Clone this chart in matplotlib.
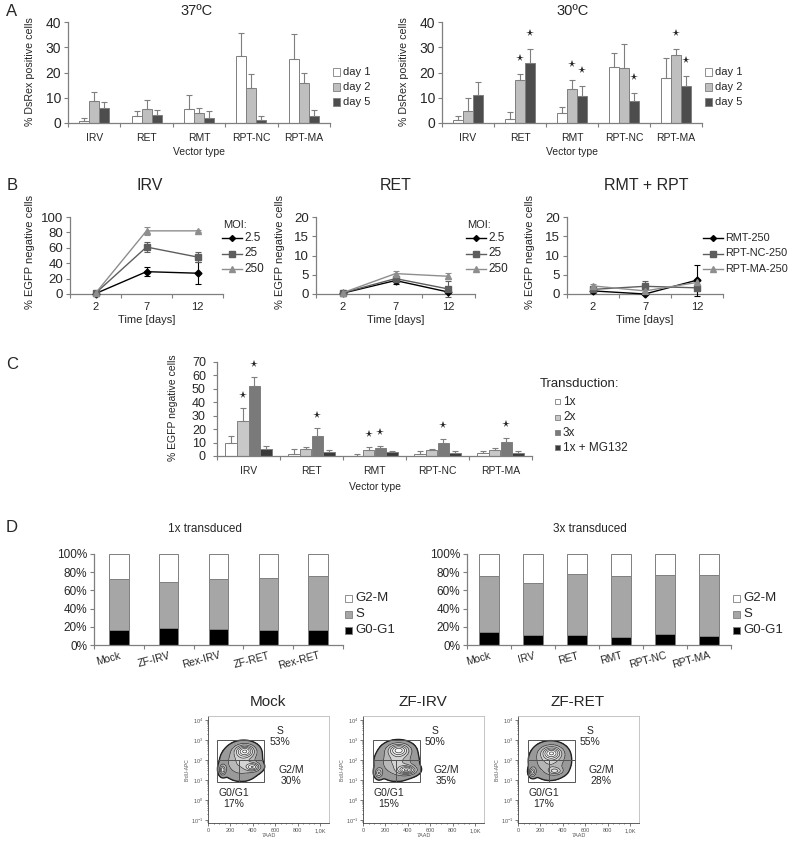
import numpy as np
import matplotlib
matplotlib.use('Agg')
import matplotlib.pyplot as plt
from matplotlib.patches import Rectangle
from matplotlib.lines import Line2D
from matplotlib.colors import LinearSegmentedColormap
from matplotlib.ticker import PercentFormatter

plt.rcParams['font.family'] = ['Liberation Sans', 'DejaVu Sans']

W, H = 792, 848
TXT = '#262626'
AX = '#7f7f7f'

# ---------------- data ----------------
vectors = ['IRV', 'RET', 'RMT', 'RPT-NC', 'RPT-MA']
day_labels = ['day 1', 'day 2', 'day 5']

# A: % DsRex positive cells at 37 C (mean, upper SD)
a37_day1 = [0.8, 2.9, 5.7, 26.7, 25.4]
a37_day2 = [8.8, 5.7, 3.8, 13.8, 15.8]
a37_day5 = [5.9, 3.2, 2.1, 1.1, 2.8]
a37_err1 = [1.0, 1.7, 5.5, 9.0, 9.7]
a37_err2 = [3.3, 3.5, 2.0, 5.7, 3.9]
a37_err5 = [2.3, 1.8, 2.5, 1.6, 2.4]

# A: 30 C
a30_day1 = [1.0, 1.5, 3.8, 22.3, 18.0]
a30_day2 = [4.6, 16.9, 13.4, 21.6, 27.1]
a30_day5 = [11.2, 23.8, 10.6, 8.7, 14.6]
a30_err1 = [1.8, 2.9, 2.5, 5.5, 7.9]
a30_err2 = [5.2, 2.7, 3.8, 9.5, 2.3]
a30_err5 = [5.1, 5.5, 3.9, 3.3, 4.2]
a30_stars = [(1, 1), (1, 2), (2, 1), (2, 2), (3, 2), (4, 1), (4, 2)]

# B: % EGFP negative cells over time
time_labels = ['2', '7', '12']
moi_labels = ['2.5', '25', '250']
irv_moi = [[0.5, 29, 27], [1, 61, 48], [1, 82, 82]]
irv_err = [[1, 6, 14], [1, 6, 6], [1, 5, 1]]
ret_moi = [[0.2, 3.5, 0.5], [0.3, 4.0, 1.3], [0.3, 5.3, 4.6]]
ret_err = [[0.3, 1.0, 0.3], [0.3, 0.8, 2.0], [0.3, 0.8, 0.8]]
rpt_labels = ['RMT-250', 'RPT-NC-250', 'RPT-MA-250']
rpt_vals = [[0.8, 0.0, 3.6], [1.2, 2.0, 1.6], [2.1, 0.8, 3.0]]
rpt_err = [[0.5, 0.3, 4.0], [0.5, 1.5, 0.8], [0.5, 0.5, 1.0]]

# C: repeated transduction
trans_labels = ['1x', '2x', '3x', '1x + MG132']
c_1x = [10.0, 1.8, 0.2, 1.6, 1.9]
c_2x = [26.0, 4.9, 4.2, 4.2, 4.8]
c_3x = [52.0, 15.2, 5.8, 9.4, 10.3]
c_mg = [5.5, 2.8, 2.8, 2.4, 1.9]
c_err_1x = [5.0, 3.3, 1.6, 1.8, 1.8]
c_err_2x = [9.7, 1.5, 2.2, 0.9, 0.8]
c_err_3x = [6.5, 5.3, 1.8, 3.6, 3.4]
c_err_mg = [1.8, 2.0, 1.1, 1.6, 2.1]
c_stars = [(0, 1), (0, 2), (1, 2), (2, 1), (2, 2), (3, 2), (4, 2)]

# D: cell cycle distribution (%)
phase_labels = ['G2-M', 'S', 'G0-G1']
d1_names = ['Mock', 'ZF-IRV', 'Rex-IRV', 'ZF-RET', 'Rex-RET']
d1_g0g1 = [16, 19, 18, 16, 17]
d1_s = [57, 50, 54, 58, 59]
d1_g2m = [27, 31, 28, 26, 24]
d3_names = ['Mock', 'IRV', 'RET', 'RMT', 'RPT-NC', 'RPT-MA']
d3_g0g1 = [14.5, 10.5, 10.5, 9, 12.5, 10]
d3_s = [61, 58, 67, 66.5, 64, 66.5]
d3_g2m = [24.5, 31.5, 22.5, 24.5, 23.5, 23.5]

# D: flow plots, populations as (7AAD centre, log10 BrdU centre, x spread, log spread, weight)
flow_names = ['Mock', 'ZF-IRV', 'ZF-RET']
flow_s_pct = ['53%', '50%', '55%']
flow_g2m_pct = ['30%', '35%', '28%']
flow_g1_pct = ['17%', '15%', '17%']
flow_pops = [
    [(295, 1.9, 95, 0.48, 0.4), (330, 2.45, 55, 0.2, 0.9), (130, 1.5, 18, 0.16, 0.6), (400, 1.65, 40, 0.13, 0.7)],
    [(300, 1.9, 100, 0.48, 0.4), (320, 2.5, 60, 0.2, 0.8), (140, 1.35, 20, 0.15, 0.5), (390, 1.5, 50, 0.14, 0.9)],
    [(285, 1.95, 95, 0.48, 0.4), (300, 2.35, 55, 0.2, 0.95), (130, 1.4, 18, 0.14, 0.6), (330, 1.45, 40, 0.11, 0.5)],
]
gate_left = [80, 89, 89]
gate_mid = [275, 296, 281]
gate_right = [500, 508, 510]

# ---------------- helpers ----------------
fig = plt.figure(figsize=(W / 100, H / 100), dpi=100)


def px_axes(x0, y0, x1, y1):
    return fig.add_axes([x0 / W, 1 - y1 / H, (x1 - x0) / W, (y1 - y0) / H])


def ftext(x, y, s, fs, **kw):
    kw.setdefault('ha', 'center')
    kw.setdefault('va', 'center')
    kw.setdefault('color', TXT)
    return fig.text(x / W, 1 - y / H, s, fontsize=fs, **kw)


def style(ax, yfs, pad=2):
    for s in ['top', 'right']:
        ax.spines[s].set_visible(False)
    for s in ['left', 'bottom']:
        ax.spines[s].set_color(AX)
        ax.spines[s].set_linewidth(0.9)
    ax.tick_params(axis='y', colors=AX, labelcolor=TXT, labelsize=yfs, length=3, width=0.8, pad=pad)


def categories(ax, labels, fs, pad):
    n = len(labels)
    ax.set_xlim(-0.5, n - 0.5)
    ax.set_xticks(range(n))
    ax.set_xticklabels(labels)
    ax.set_xticks(np.arange(-0.5, n), minor=True)
    ax.tick_params(axis='x', which='major', length=0, labelsize=fs, labelcolor=TXT, pad=pad)
    ax.tick_params(axis='x', which='minor', length=3, width=0.8, color=AX)


def grouped(ax, means, errs, colors, width, stars, star_off):
    k = len(means)
    x = np.arange(len(means[0]))
    tops = []
    for i in range(k):
        pos = x + (i - (k - 1) / 2) * width
        ax.bar(pos, means[i], width, color=colors[i], edgecolor=AX, linewidth=0.7, zorder=2)
        ax.errorbar(pos, means[i], yerr=[np.zeros(len(x)), errs[i]], fmt='none', ecolor=AX,
                    elinewidth=0.8, capsize=2, capthick=0.8, zorder=3)
        tops.append((pos, np.array(means[i]) + np.array(errs[i])))
    for g, i in stars:
        pos, top = tops[i]
        ax.plot(pos[g], top[g] + star_off, marker='*', ms=5.5, color=TXT, mew=0, clip_on=False, zorder=4)


def square_legend(x, y, labels, colors, fs, dy, size=7):
    for i, (lab, col) in enumerate(zip(labels, colors)):
        yy = y + i * dy
        fig.add_artist(Rectangle((x / W, 1 - (yy + size / 2) / H), size / W, size / H,
                                 transform=fig.transFigure, facecolor=col, edgecolor=AX, lw=0.6))
        ftext(x + size + 3, yy, lab, fs, ha='left')


def line_legend(x, y, labels, colors, markers, fs, dy):
    for i, (lab, col, mk) in enumerate(zip(labels, colors, markers)):
        yy = 1 - (y + i * dy) / H
        fig.add_artist(Line2D([x / W, (x + 20) / W], [yy, yy], transform=fig.transFigure,
                              color=col, lw=1))
        fig.add_artist(Line2D([(x + 10) / W], [yy], transform=fig.transFigure,
                              color=col, marker=mk, ms=4 if mk != 'D' else 3))
        ftext(x + 22, y + i * dy, lab, fs, ha='left')


# ---------------- panel A ----------------
day_colors = ['white', '#bfbfbf', '#4d4d4d']
ftext(12, 12, 'A', 12)
for x0, x1, title, tx, means, errs, stars, ylx in [
        (68, 330, '37ºC', 197, [a37_day1, a37_day2, a37_day5], [a37_err1, a37_err2, a37_err5], [], 30),
        (442, 702, '30ºC', 573, [a30_day1, a30_day2, a30_day5], [a30_err1, a30_err2, a30_err5], a30_stars, 404)]:
    ax = px_axes(x0, 22, x1, 123)
    style(ax, 10)
    grouped(ax, means, errs, day_colors, 0.19, stars, 6.3)
    ax.set_ylim(0, 40)
    ax.set_yticks([0, 10, 20, 30, 40])
    categories(ax, vectors, 7.5, 7)
    ftext(tx, 11, title, 10.5)
    ftext((x0 + x1) / 2, 152, 'Vector type', 7.5)
    ftext(ylx, 72, '% DsRex positive cells', 7.7, rotation=90)
    square_legend(x1 + 3, 72, day_labels, day_colors, 8, 15)

# ---------------- panel B ----------------
line_colors = ['black', '#5e5e5e', '#8e8e8e']
line_markers = ['D', 's', '^']
ftext(12, 185, 'B', 12)
for x0, x1, title, tx, vals, errs, ymax, ystep, ylx, labels, lx, lfs in [
        (70, 223, 'IRV', 150, irv_moi, irv_err, 100, 20, 30, moi_labels, 222, 8.5),
        (316, 475, 'RET', 396, ret_moi, ret_err, 20, 5, 280, moi_labels, 466, 8.5),
        (567, 723, 'RMT + RPT', 646, rpt_vals, rpt_err, 20, 5, 530, rpt_labels, 703, 7.8)]:
    ax = px_axes(x0, 217, x1, 294)
    style(ax, 9.5)
    xs = np.arange(3)
    for v, e, c, m in zip(vals, errs, line_colors, line_markers):
        ax.errorbar(xs, v, yerr=e, color=c, lw=1, marker=m, ms=3.5 if m == 'D' else 4.5,
                    elinewidth=0.8, capsize=2, capthick=0.8, clip_on=False, zorder=3)
    ax.set_ylim(0, ymax)
    ax.set_yticks(np.arange(0, ymax + 1, ystep))
    categories(ax, time_labels, 8, 6)
    ftext(tx, 185, title, 11.5)
    ftext((x0 + x1) / 2, 320, 'Time [days]', 8)
    ftext(ylx, 252, '% EGFP negative cells', 8, rotation=90)
    if labels is moi_labels:
        ftext(lx + 1, 225, 'MOI:', 8, ha='left')
    line_legend(lx, 238, labels, line_colors, line_markers, lfs, 15.5)

# ---------------- panel C ----------------
trans_colors = ['white', '#c8c8c8', '#7a7a7a', '#3a3a3a']
ftext(12, 364, 'C', 12)
ax = px_axes(217, 362, 532, 456)
style(ax, 9, pad=5)
grouped(ax, [c_1x, c_2x, c_3x, c_mg], [c_err_1x, c_err_2x, c_err_3x, c_err_mg],
        trans_colors, 0.19, c_stars, 10)
ax.set_ylim(0, 70)
ax.set_yticks(np.arange(0, 71, 10))
categories(ax, vectors, 7.5, 7)
ftext(375, 487, 'Vector type', 7.5)
ftext(173, 408, '% EGFP negative cells', 7.5, rotation=90)
ftext(540, 384, 'Transduction:', 9.5, ha='left')
square_legend(555, 402, trans_labels, trans_colors, 8.5, 15.3, size=5)

# ---------------- panel D ----------------
phase_colors = ['black', '#a6a6a6', 'white']
ftext(12, 528, 'D', 12)
for x0, x1, title, tx, names, g1, s, g2, bw in [
        (94, 343, '1x transduced', 205, d1_names, d1_g0g1, d1_s, d1_g2m, 0.39),
        (467, 731, '3x transduced', 590, d3_names, d3_g0g1, d3_s, d3_g2m, 0.45)]:
    ax = px_axes(x0, 554, x1, 645)
    style(ax, 8.5)
    xs = np.arange(len(names))
    ax.bar(xs, g1, bw, color=phase_colors[0], edgecolor=AX, lw=0.7)
    ax.bar(xs, s, bw, bottom=g1, color=phase_colors[1], edgecolor=AX, lw=0.7)
    ax.bar(xs, g2, bw, bottom=np.array(g1) + np.array(s), color=phase_colors[2], edgecolor=AX, lw=0.7)
    ax.set_ylim(0, 100)
    ax.set_yticks(np.arange(0, 101, 20))
    ax.yaxis.set_major_formatter(PercentFormatter(decimals=0))
    categories(ax, names, 7.5, 4)
    for lab in ax.get_xticklabels():
        lab.set_rotation(15)
        lab.set_ha('right')
        lab.set_va('top')
        lab.set_rotation_mode('anchor')
    ftext(tx, 529, title, 8.5)
    square_legend(x1 + 2, 598, phase_labels, phase_colors[::-1], 9.5, 16)

# ---------------- flow plots ----------------
grid_x = np.linspace(0, 1050, 240)
grid_ly = np.linspace(-1.15, 4.2, 240)
GX, GL = np.meshgrid(grid_x, grid_ly)
flow_cmap = LinearSegmentedColormap.from_list('flow', ['#8c8c8c', '#cfcfcf', '#f2f2f2', 'white'])
for k, x0 in enumerate([208, 363, 518]):
    ax = px_axes(x0, 716, x0 + 121, 823)
    dens = np.zeros_like(GX)
    for cx, cl, sx, sl, w in flow_pops[k]:
        dens += w * np.exp(-0.5 * ((GX - cx) / sx) ** 2 - 0.5 * ((GL - cl) / sl) ** 2)
    dens[GL < 0.92] = 0
    levels = np.concatenate([[0.05], np.linspace(0.2, dens.max() * 0.95, 6)])
    ax.contourf(GX, 10 ** GL, dens, levels=list(levels) + [dens.max() * 1.01], cmap=flow_cmap, zorder=1)
    ax.contour(GX, 10 ** GL, dens, levels=levels, colors='#222222', linewidths=[1.0] + [0.45] * 6, zorder=2)
    for xa, xb, ya, yb in [(gate_left[k], gate_right[k], 100, 1000),
                           (gate_left[k], gate_mid[k], 8, 100),
                           (gate_mid[k], gate_right[k], 8, 100)]:
        ax.add_patch(Rectangle((xa, ya), xb - xa, yb - ya, fill=False, ec='#555555', lw=0.7, zorder=3))
    ax.set_yscale('log')
    ax.set_xlim(0, 1080)
    ax.set_ylim(10 ** -1.15, 10 ** 4.2)
    ax.set_xticks([0, 200, 400, 600, 800, 1000])
    ax.set_xticklabels(['0', '200', '400', '600', '800', '1,0K'])
    ax.set_xticks(np.arange(0, 1001, 50), minor=True)
    ax.set_yticks([0.1, 1, 10, 100, 1000, 10000])
    for s in ax.spines.values():
        s.set_color('#bbbbbb')
        s.set_linewidth(0.6)
    ax.spines['left'].set_color('#444444')
    ax.spines['bottom'].set_color('#444444')
    ax.tick_params(which='both', labelsize=4, colors='#444444', labelcolor='#555555', length=2, width=0.5, pad=1.5)
    ax.tick_params(which='minor', length=1)
    ax.set_xlabel('7AAD', fontsize=4, color='#555555', labelpad=0)
    ax.set_ylabel('BrdU-APC', fontsize=3.5, color='#555555', labelpad=1)
    ax.text(640, 10 ** 3.45, 'S', fontsize=7.5, color=TXT, ha='center', va='center')
    ax.text(640, 10 ** 2.9, flow_s_pct[k], fontsize=7.5, color=TXT, ha='center', va='center')
    ax.text(740, 10 ** 1.5, 'G2/M', fontsize=7.5, color=TXT, ha='center', va='center')
    ax.text(740, 10 ** 0.95, flow_g2m_pct[k], fontsize=7.5, color=TXT, ha='center', va='center')
    ax.text(230, 10 ** 0.35, 'G0/G1', fontsize=7.5, color=TXT, ha='center', va='center')
    ax.text(230, 10 ** -0.2, flow_g1_pct[k], fontsize=7.5, color=TXT, ha='center', va='center')
    ftext(x0 + 60, 702, flow_names[k], 11)

fig.savefig('out.png', dpi=100)
